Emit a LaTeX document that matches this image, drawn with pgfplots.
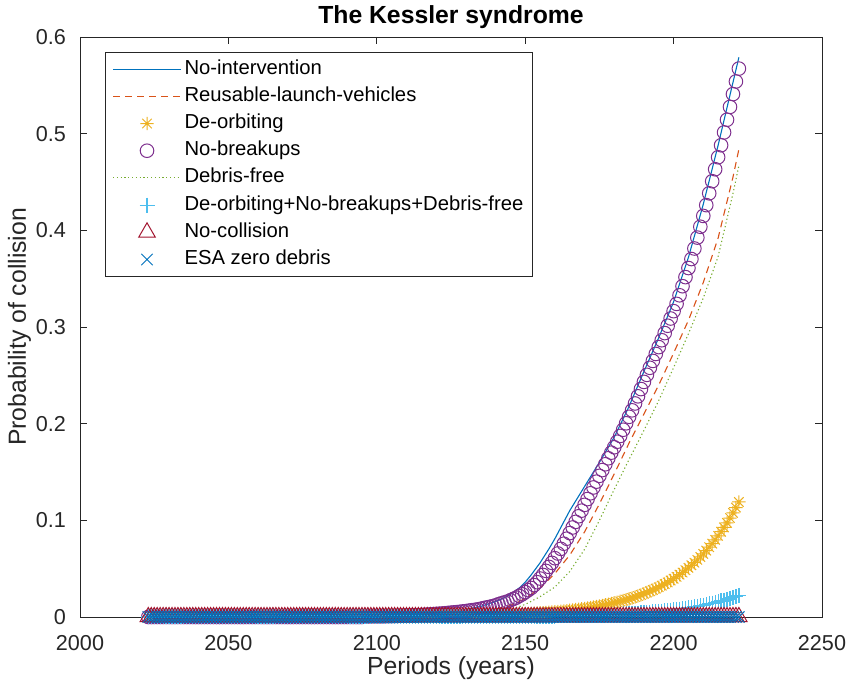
\documentclass[border=0pt]{standalone}
\usepackage{fontspec}
\setmainfont{Liberation Sans}
\usepackage{pgfplots}
\usepackage{pgfplotstable}
\pgfplotsset{compat=1.18}

% MATLAB default colour order
\definecolor{mblue}{rgb}{0,0.447,0.741}
\definecolor{morange}{rgb}{0.850,0.325,0.098}
\definecolor{myellow}{rgb}{0.929,0.694,0.125}
\definecolor{mpurple}{rgb}{0.494,0.184,0.556}
\definecolor{mgreen}{rgb}{0.466,0.674,0.188}
\definecolor{mcyan}{rgb}{0.301,0.745,0.933}
\definecolor{mred}{rgb}{0.635,0.078,0.184}
\definecolor{axgray}{rgb}{0.15,0.15,0.15}

% eight-armed asterisk (plus and cross together)
\pgfdeclareplotmark{asterisk8}{%
  \pgfpathmoveto{\pgfqpoint{\pgfplotmarksize}{0pt}}%
  \pgfpathlineto{\pgfqpoint{-\pgfplotmarksize}{0pt}}%
  \pgfpathmoveto{\pgfqpoint{0pt}{\pgfplotmarksize}}%
  \pgfpathlineto{\pgfqpoint{0pt}{-\pgfplotmarksize}}%
  \pgfpathmoveto{\pgfqpoint{0.7071\pgfplotmarksize}{0.7071\pgfplotmarksize}}%
  \pgfpathlineto{\pgfqpoint{-0.7071\pgfplotmarksize}{-0.7071\pgfplotmarksize}}%
  \pgfpathmoveto{\pgfqpoint{-0.7071\pgfplotmarksize}{0.7071\pgfplotmarksize}}%
  \pgfpathlineto{\pgfqpoint{0.7071\pgfplotmarksize}{-0.7071\pgfplotmarksize}}%
  \pgfusepathqstroke}

% yearly values of the marker series
\pgfplotstableread{
year nobreak deorb combo zero
2023 0 0 0 0
2024 0 0 0 0
2025 0 0 0 0
2026 0 0 0 0
2027 0 0 0 0
2028 0 0 0 0
2029 0 0 0 0
2030 0 0 0 0
2031 0 0 0 0
2032 0 0 0 0
2033 0 0 0 0
2034 0 0 0 0
2035 0 0 0 0
2036 0 0 0 0
2037 0 0 0 0
2038 0 0 0 0
2039 0 0 0 0
2040 0 0 0 0
2041 0 0 0 0
2042 0 0 0 0
2043 0 0 0 0
2044 0 0 0 0
2045 0 0 0 0
2046 0 0 0 0
2047 0 0 0 0
2048 0 0 0 0
2049 0 0 0 0
2050 0 0 0 0
2051 0 0 0 0
2052 0 0 0 0
2053 0 0 0 0
2054 0 0 0 0
2055 0 0 0 0
2056 0 0 0 0
2057 0 0 0 0
2058 0 0 0 0
2059 0 0 0 0
2060 0 0 0 0
2061 0 0 0 0
2062 0 0 0 0
2063 0 0 0 0
2064 0 0 0 0
2065 0 0 0 0
2066 0 0 0 0
2067 0 0 0 0
2068 0 0 0 0
2069 0 0 0 0
2070 0 0 0 0
2071 0 0 0 0
2072 0 0 0 0
2073 0 0 0 0
2074 0 0 0 0
2075 0 0 0 0
2076 0 0 0 0
2077 0 0 0 0
2078 0 0 0 0
2079 0 0 0 0
2080 0 0 0 0
2081 0 0 0 0
2082 0 0 0 0
2083 0 0 0 0
2084 0 0 0 0
2085 0 0 0 0
2086 0 0 0 0
2087 0 0 0 0
2088 0 0 0 0
2089 0 0 0 0
2090 0 0 0 0
2091 0 0 0 0
2092 0 0 0 0
2093 0 0 0 0
2094 0 0 0 0
2095 0 0 0 0
2096 0.0006 0 0 0
2097 0.0006 0 0 0
2098 0.0007 0 0 0
2099 0.0007 0 0 0
2100 0.0007 0.0002 0.0001 0
2101 0.0007 0.0002 0.0001 0
2102 0.0007 0.0003 0.0001 0
2103 0.0008 0.0003 0.0001 0
2104 0.0009 0.0003 0.0001 0
2105 0.0009 0.0003 0.0001 0
2106 0.0010 0.0003 0.0001 0
2107 0.0011 0.0003 0.0001 0
2108 0.0012 0.0004 0.0001 0
2109 0.0013 0.0004 0.0001 0
2110 0.0014 0.0004 0.0001 0
2111 0.0015 0.0004 0.0001 0
2112 0.0016 0.0005 0.0001 0
2113 0.0017 0.0005 0.0001 0
2114 0.0019 0.0005 0.0001 0
2115 0.0021 0.0005 0.0001 0
2116 0.0023 0.0006 0.0001 0
2117 0.0025 0.0006 0.0001 0
2118 0.0027 0.0006 0.0001 0
2119 0.0029 0.0007 0.0001 0
2120 0.0032 0.0007 0.0002 0
2121 0.0034 0.0007 0.0002 0
2122 0.0036 0.0008 0.0002 0
2123 0.0039 0.0008 0.0002 0
2124 0.0042 0.0009 0.0002 0
2125 0.0045 0.0009 0.0002 0
2126 0.0048 0.0010 0.0002 0
2127 0.0051 0.0010 0.0002 0
2128 0.0054 0.0011 0.0002 0
2129 0.0058 0.0011 0.0002 0
2130 0.0061 0.0012 0.0002 0
2131 0.0066 0.0012 0.0002 0
2132 0.0070 0.0013 0.0002 0
2133 0.0074 0.0014 0.0002 0
2134 0.0079 0.0015 0.0002 0
2135 0.0085 0.0015 0.0003 0
2136 0.0092 0.0016 0.0003 0
2137 0.0099 0.0017 0.0003 0
2138 0.0105 0.0018 0.0003 0
2139 0.0112 0.0019 0.0003 0
2140 0.0120 0.0020 0.0004 0
2141 0.0132 0.0021 0.0004 0
2142 0.0142 0.0022 0.0004 0
2143 0.0151 0.0023 0.0004 0
2144 0.0160 0.0024 0.0005 0
2145 0.0173 0.0025 0.0005 0
2146 0.0187 0.0027 0.0005 0
2147 0.0200 0.0028 0.0005 0
2148 0.0218 0.0030 0.0006 0
2149 0.0235 0.0031 0.0006 0
2150 0.0257 0.0033 0.0006 0
2151 0.0278 0.0034 0.0007 0
2152 0.0300 0.0036 0.0007 0
2153 0.0330 0.0038 0.0007 0
2154 0.0360 0.0040 0.0008 0
2155 0.0398 0.0042 0.0008 0
2156 0.0435 0.0044 0.0008 0
2157 0.0477 0.0046 0.0009 0
2158 0.0518 0.0049 0.0009 0
2159 0.0560 0.0051 0.0010 0
2160 0.0608 0.0054 0.0010 0
2161 0.0657 0.0056 0.0011 0
2162 0.0705 0.0059 0.0011 0
2163 0.0758 0.0062 0.0012 0
2164 0.0810 0.0065 0.0012 0
2165 0.0868 0.0069 0.0013 0
2166 0.0926 0.0072 0.0013 0
2167 0.0984 0.0076 0.0014 0
2168 0.1042 0.0080 0.0015 0
2169 0.1100 0.0084 0.0016 0
2170 0.1160 0.0088 0.0016 0
2171 0.1220 0.0093 0.0017 0
2172 0.1280 0.0098 0.0018 0
2173 0.1340 0.0103 0.0019 0
2174 0.1400 0.0108 0.0020 0
2175 0.1460 0.0114 0.0021 0
2176 0.1520 0.0119 0.0022 0
2177 0.1580 0.0125 0.0024 0
2178 0.1642 0.0132 0.0025 0
2179 0.1700 0.0139 0.0026 0
2180 0.1756 0.0146 0.0027 0
2181 0.1813 0.0153 0.0029 0
2182 0.1873 0.0161 0.0030 0
2183 0.1937 0.0169 0.0032 0
2184 0.2004 0.0178 0.0033 0
2185 0.2071 0.0187 0.0035 0
2186 0.2138 0.0197 0.0037 0
2187 0.2209 0.0207 0.0039 0
2188 0.2283 0.0217 0.0041 0
2189 0.2358 0.0228 0.0043 0
2190 0.2432 0.0240 0.0045 0
2191 0.2505 0.0253 0.0047 0
2192 0.2578 0.0266 0.0050 0
2193 0.2649 0.0279 0.0052 0
2194 0.2721 0.0293 0.0055 0
2195 0.2792 0.0308 0.0058 0
2196 0.2863 0.0324 0.0061 0
2197 0.2937 0.0341 0.0064 0
2198 0.3013 0.0358 0.0067 0
2199 0.3088 0.0377 0.0071 0
2200 0.3164 0.0396 0.0074 0
2201 0.3239 0.0416 0.0078 0
2202 0.3328 0.0438 0.0082 0
2203 0.3422 0.0460 0.0086 0
2204 0.3516 0.0484 0.0091 0
2205 0.3610 0.0509 0.0096 0
2206 0.3703 0.0535 0.0100 0
2207 0.3812 0.0562 0.0106 0
2208 0.3925 0.0591 0.0111 0
2209 0.4037 0.0621 0.0117 0
2210 0.4149 0.0653 0.0123 0
2211 0.4261 0.0687 0.0129 0
2212 0.4383 0.0722 0.0136 0
2213 0.4508 0.0759 0.0143 0
2214 0.4632 0.0798 0.0150 0
2215 0.4756 0.0839 0.0158 0
2216 0.4880 0.0882 0.0166 0
2217 0.5013 0.0927 0.0174 0
2218 0.5144 0.0974 0.0183 0
2219 0.5277 0.1024 0.0192 0
2220 0.5409 0.1077 0.0202 0
2221 0.5540 0.1132 0.0213 0
2222 0.5673 0.1190 0.0224 0
}\kessler

\begin{document}
\begin{tikzpicture}
\useasboundingbox (0pt,0pt) rectangle (846pt,690pt);
\begin{axis}[
  at={(80pt,73pt)}, anchor=south west,
  scale only axis, width=742pt, height=580pt,
  xmin=2000, xmax=2250, ymin=0, ymax=0.6,
  xtick={2000,2050,2100,2150,2200,2250},
  ytick={0,0.1,0.2,0.3,0.4,0.5,0.6},
  clip=false,
  axis line style={draw=axgray, line width=0.9pt},
  tick style={draw=axgray, line width=0.9pt},
  major tick length=7.4pt,
  tick align=inside,
  /pgf/number format/assume math mode=true,
  /pgf/number format/1000 sep={},
  ticklabel style={font=\fontsize{21.6}{26}\selectfont, text=axgray, inner sep=1pt},
  xticklabel shift=17pt,
  yticklabel shift=13pt,
  xlabel={Periods (years)},
  ylabel={Probability of collision},
  label style={font=\fontsize{24.75}{30}\selectfont, text=axgray, inner sep=1pt},
  xlabel style={at={(axis description cs:0.5,-0.0985)}, anchor=base},
  ylabel style={at={(axis description cs:-0.0728,0.5)}, anchor=base, rotate=0},
  title={The Kessler syndrome},
  title style={font=\fontsize{24.75}{30}\selectfont\bfseries, at={(axis description cs:0.5,1.013)}, anchor=base},
  legend cell align=left,
  legend image code/.code={\draw[mark repeat=2,mark phase=2,#1] plot coordinates {(0pt,0pt) (34pt,0pt) (68pt,0pt)};},
  legend style={at={(axis description cs:0.0337,0.974)}, anchor=north west,
    draw=axgray, line width=0.9pt, fill=white,
    font=\fontsize{20.25}{24}\selectfont,
    nodes={text height=14.6pt, text depth=4.6pt, inner ysep=4pt},
    inner xsep=7pt, inner ysep=3pt, column sep=1pt},
]
% lines
\addplot[mblue, line width=1.1pt] coordinates {
 (2023,0) (2080,0.0002) (2100,0.0008) (2110,0.0018) (2115,0.0028)
 (2120,0.0040) (2125,0.0056) (2130,0.0078) (2135,0.0110) (2140,0.0160)
 (2143,0.0200) (2145,0.0235) (2148,0.0300) (2150,0.0360) (2152,0.0435)
 (2155,0.0560) (2158,0.0705) (2160,0.0810) (2165,0.1100) (2170,0.1350)
 (2175,0.1600) (2180,0.1860) (2185,0.2180) (2190,0.2540) (2195,0.2890)
 (2200,0.3260) (2205,0.3720) (2210,0.4270) (2215,0.4880) (2220,0.5530)
 (2222,0.5790)};
\addlegendentry{No-intervention}
\addplot[morange, line width=1.1pt, dash pattern=on 7pt off 5pt] coordinates {
 (2023,0) (2100,0.0002) (2120,0.0010) (2130,0.0025) (2140,0.0075)
 (2145,0.0120) (2150,0.0190) (2155,0.0300) (2160,0.0450) (2165,0.0640)
 (2170,0.0880) (2175,0.1170) (2180,0.1480) (2185,0.1800) (2190,0.2100)
 (2195,0.2400) (2200,0.2730) (2205,0.3070) (2210,0.3460) (2215,0.3920)
 (2220,0.4550) (2222,0.4840)};
\addlegendentry{Reusable-launch-vehicles}
\addplot[myellow, only marks, mark=asterisk8, mark size=6.7pt, line width=1pt,
  mark options={draw=myellow}]
  table[x=year, y=deorb] {\kessler};
\addlegendentry{De-orbiting}
\addplot[mpurple, only marks, mark=o, mark size=6.8pt, line width=1pt,
  mark options={draw=mpurple}]
  table[x=year, y=nobreak] {\kessler};
\addlegendentry{No-breakups}
\addplot[mgreen, line width=1.1pt, dash pattern=on 1.2pt off 2.6pt] coordinates {
 (2023,0) (2120,0.0003) (2130,0.0010) (2140,0.0040) (2145,0.0075)
 (2150,0.0130) (2155,0.0210) (2160,0.0310) (2165,0.0470) (2170,0.0700)
 (2175,0.1000) (2180,0.1320) (2185,0.1630) (2190,0.1930) (2195,0.2240)
 (2200,0.2580) (2205,0.2930) (2210,0.3300) (2215,0.3730) (2220,0.4380)
 (2222,0.4670)};
\addlegendentry{Debris-free}
\addplot[mcyan, only marks, mark=+, mark size=7.5pt, line width=1.2pt,
  mark options={draw=mcyan}]
  table[x=year, y=combo] {\kessler};
\addlegendentry{De-orbiting+No-breakups+Debris-free}
\addplot[mred, only marks, mark=triangle, mark size=9.5pt, line width=1pt,
  mark options={draw=mred}]
  table[x=year, y=zero] {\kessler};
\addlegendentry{No-collision}
\addplot[mblue, only marks, mark=x, mark size=8pt, line width=1pt,
  mark options={draw=mblue}]
  table[x=year, y=zero] {\kessler};
\addlegendentry{ESA zero debris}
\end{axis}
\end{tikzpicture}
\end{document}
